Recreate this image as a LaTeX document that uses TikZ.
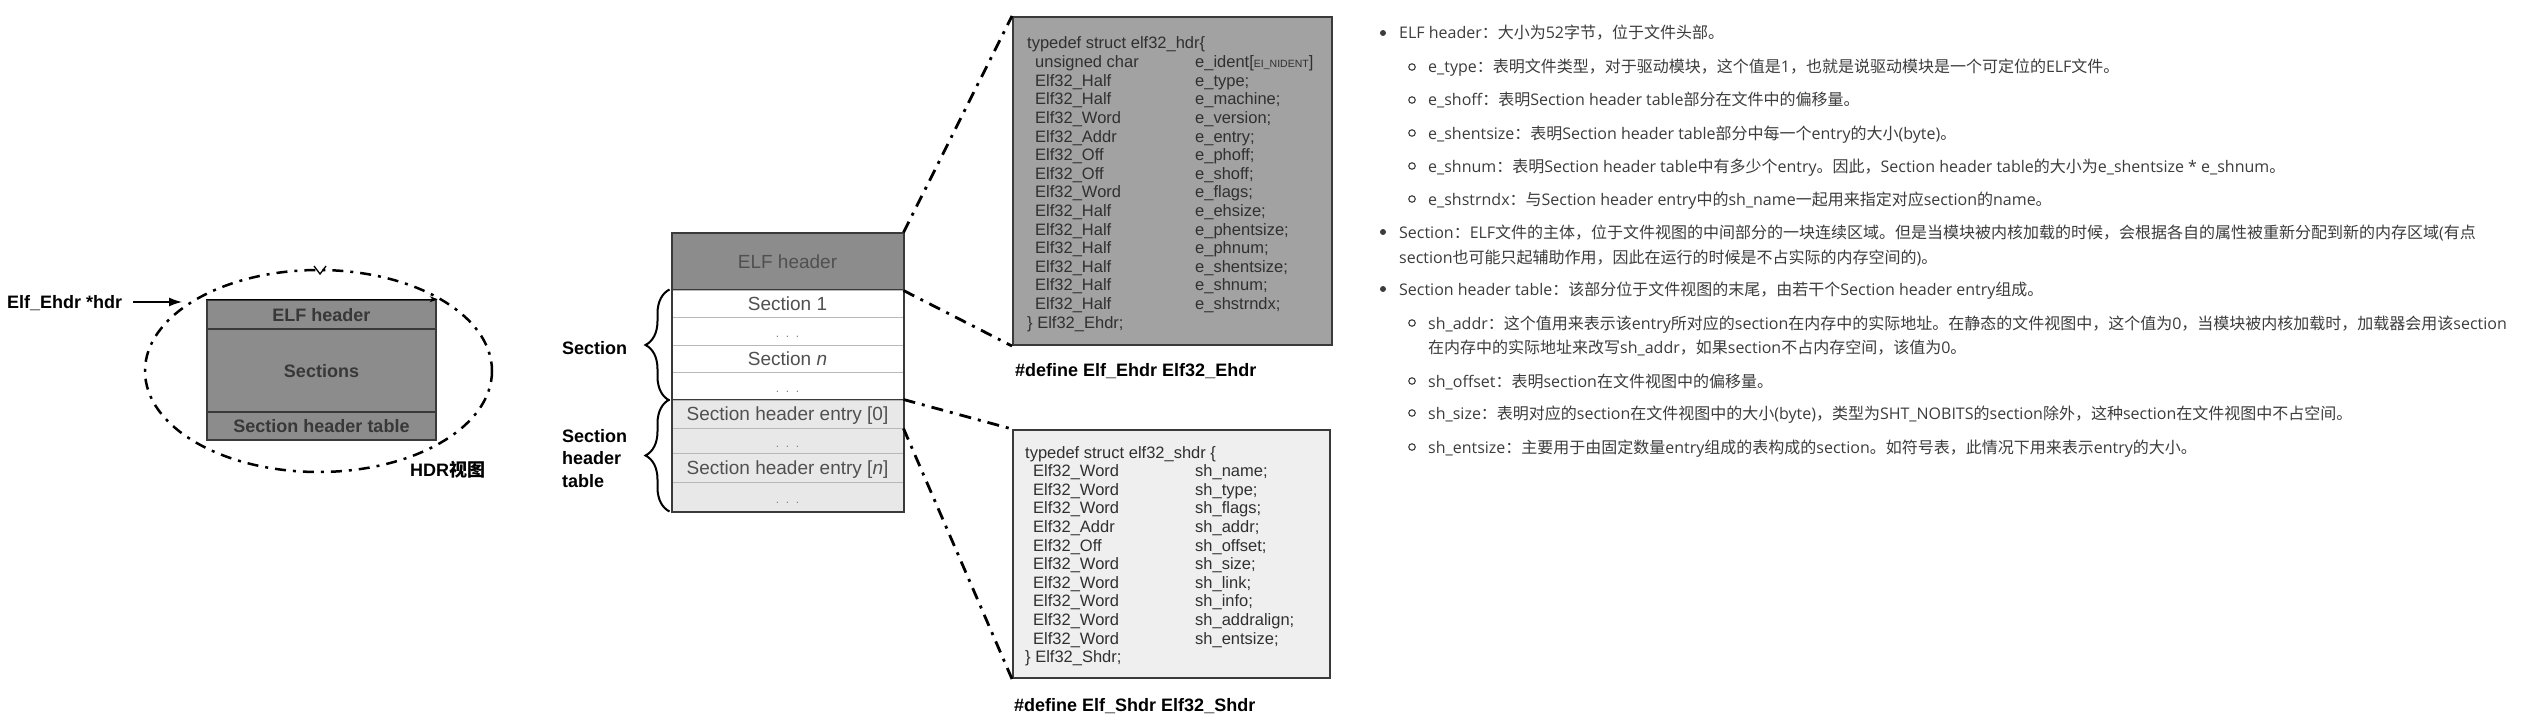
\documentclass[tikz,border=0pt]{standalone}
\usepackage{fontspec}
\setmainfont{Liberation Sans}
\newfontfamily\opensans{Open Sans}
\newfontfamily\cjkfont{Noto Sans CJK SC}
\usetikzlibrary{decorations.pathreplacing,arrows.meta}
\XeTeXinterchartokenstate=1
\newXeTeXintercharclass\CJKcls
\newcount\cjkc
\def\setcjkrange#1#2{\cjkc=#1\relax\loop\XeTeXcharclass\cjkc=\CJKcls\relax\ifnum\cjkc<#2\relax\advance\cjkc by 1\relax\repeat}
\setcjkrange{"3000}{"303F}
\setcjkrange{"4E00}{"9FFF}
\setcjkrange{"FF00}{"FFEF}
\XeTeXinterchartoks 0 \CJKcls = {\begingroup\cjkfont}
\XeTeXinterchartoks 4095 \CJKcls = {\begingroup\cjkfont}
\XeTeXinterchartoks \CJKcls 0 = {\endgroup}
\XeTeXinterchartoks \CJKcls 4095 = {\endgroup}
\definecolor{rtxt}{HTML}{3C3C3C}
\definecolor{codetxt}{HTML}{303030}
\definecolor{midtxt}{HTML}{505050}
\definecolor{rowline}{HTML}{B8B8B8}
\definecolor{boxline}{HTML}{3A3A3A}
\definecolor{darkfill}{HTML}{8C8C8C}
\definecolor{code1fill}{HTML}{A2A2A2}
\definecolor{code2fill}{HTML}{EFEFEF}
\definecolor{entryfill}{HTML}{E8E8E8}
\definecolor{lefttxt}{HTML}{383838}
\begin{document}
\begin{tikzpicture}[x=1pt,y=-1pt,
  lbl/.style={font=\bfseries\fontsize{18}{21}\selectfont, inner sep=0pt, text height=13pt, text depth=0pt, anchor=west},
  codeline/.style={font=\fontsize{16.5}{19}\selectfont, text=codetxt, inner sep=0pt, text height=12pt, text depth=0pt, anchor=west},
  rt/.style={font=\opensans\fontsize{16}{19}\selectfont, text=rtxt, inner sep=0pt, text height=12pt, text depth=0pt, anchor=west},
  lrow/.style={rectangle, draw=boxline, line width=1.5pt, fill=darkfill, minimum width=229pt, inner sep=0pt, font=\bfseries\fontsize{18}{21}\selectfont, text=lefttxt, text height=13pt, text depth=0pt},
  mrow/.style={rectangle, draw=rowline, line width=1pt, minimum width=231pt, inner sep=0pt, font=\fontsize{19}{22}\selectfont, text=midtxt, text height=13.6pt, text depth=0pt},
  dotrow/.style={mrow, font=\fontsize{12}{14}\selectfont, text=gray},
  codebox/.style={rectangle, draw=boxline, line width=2pt, inner sep=0pt},
  dashdot/.style={line width=2.8pt, dash pattern=on 12pt off 7pt on 3pt off 7pt},
  bracestyle/.style={decorate, decoration={brace, amplitude=24pt}, line width=2pt},
  fbullet/.style={circle, fill=rtxt, inner sep=0pt, minimum size=6pt},
  hbullet/.style={circle, draw=rtxt, line width=1.1pt, inner sep=0pt, minimum size=6.5pt}]
\useasboundingbox (0,0) rectangle (2528,725);
\fill[white] (0,0) rectangle (2528,725);

% ---------- left: HDR view ----------
\node[lbl] (hdrlbl) at (7,302) {Elf\_Ehdr *hdr};
\coordinate (hdrtip) at (182,302);
\draw[-{Latex[length=13pt,width=9pt]}, line width=1.3pt] ([xshift=11pt]hdrlbl.east) -- (hdrtip);
\node[lrow, minimum height=29pt] (lhdr) at (321.5,314.5) {ELF header};
\node[lrow, minimum height=83pt] (lsec) at (321.5,370.5) {Sections};
\node[lrow, minimum height=28pt] (lsht) at (321.5,426) {Section header table};
\draw[line width=1.2pt, -{Stealth[length=8pt,width=6pt]}] (lhdr.north west) -- ([xshift=1pt]lhdr.north east);
\draw[line width=2.5pt, dash pattern=on 11pt off 7pt on 3pt off 7pt] (318.5,371) ellipse [x radius=173.5, y radius=101];
\draw[line width=1.3pt] (314,266) -- (320,274) -- (326,266);
\node[lbl] (hdrview) at (410,470) {HDR视图};

% ---------- middle: file layout ----------
\node[mrow, fill=darkfill, draw=boxline, minimum height=57pt] (ehdr) at (787.5,261.5) {ELF header};
\node[mrow, fill=white, minimum height=27pt] (s1) at (787.5,303.5) {Section 1};
\node[dotrow, fill=white, minimum height=28pt] (d1) at (787.5,331) {.\ \ .\ \ .};
\node[mrow, fill=white, minimum height=27pt] (sn) at (787.5,358.5) {Section \textit{n}};
\node[dotrow, fill=white, minimum height=28pt] (d2) at (787.5,386) {.\ \ .\ \ .};
\node[mrow, fill=entryfill, minimum height=28pt] (e0) at (787.5,414) {Section header entry [0]};
\node[dotrow, fill=entryfill, minimum height=25pt] (d3) at (787.5,440.5) {.\ \ .\ \ .};
\node[mrow, fill=entryfill, minimum height=29pt] (en) at (787.5,467.5) {Section header entry [\textit{n}]};
\node[dotrow, fill=entryfill, minimum height=29pt] (d4) at (787.5,496.5) {.\ \ .\ \ .};
\draw[boxline, line width=1.5pt] (s1.north west) -- (s1.north east);
\draw[boxline, line width=1.5pt] (e0.north west) -- (e0.north east);
\draw[boxline, line width=2pt] (ehdr.north west) rectangle (d4.south east);

\draw[bracestyle] ([xshift=-2pt]d2.south west) -- ([xshift=-2pt]s1.north west);
\draw[bracestyle] ([xshift=-2pt]d4.south west) -- ([xshift=-2pt]e0.north west);
\node[lbl] (seclbl) at (562,348) {Section};
\node[font=\bfseries\fontsize{18}{22.5}\selectfont, align=left, inner sep=0pt, anchor=west] (shtlbl) at (562,458.5) {Section\\header\\table};

% ---------- code boxes ----------
\node[codebox, fill=code1fill, minimum width=319pt, minimum height=328pt] (code1) at (1172.5,181) {};
\node[codebox, fill=code2fill, minimum width=317pt, minimum height=248pt] (code2) at (1171.5,554) {};

\draw[dashdot] (ehdr.north east) -- (code1.north west);
\draw[dashdot] (ehdr.south east) -- (code1.south west);
\draw[dashdot] (e0.north east) -- (code2.north west);
\draw[dashdot] (e0.south east) -- (code2.south west);

\node[codeline] (h0) at (1027,43) {typedef struct elf32\_hdr\{};
\foreach \ty/\mb [count=\i] in {unsigned char/{e\_ident[{\fontsize{10.5}{12}\selectfont EI\_NIDENT}]},
  Elf32\_Half/e\_type;, Elf32\_Half/e\_machine;, Elf32\_Word/e\_version;, Elf32\_Addr/e\_entry;,
  Elf32\_Off/e\_phoff;, Elf32\_Off/e\_shoff;, Elf32\_Word/e\_flags;, Elf32\_Half/e\_ehsize;,
  Elf32\_Half/e\_phentsize;, Elf32\_Half/e\_phnum;, Elf32\_Half/e\_shentsize;, Elf32\_Half/e\_shnum;,
  Elf32\_Half/e\_shstrndx;}{
  \node[codeline] (ha\i) at (1035,{43+18.6*\i}) {\ty};
  \node[codeline] (hb\i) at (1195,{43+18.6*\i}) {\mb};
}
\node[codeline] (hend) at (1027,322) {\} Elf32\_Ehdr;};
\node[lbl, anchor=west] (def1) at (1015,370) {\#define Elf\_Ehdr Elf32\_Ehdr};

\node[codeline] (s0) at (1025,452) {typedef struct elf32\_shdr \{};
\foreach \ty/\mb [count=\i] in {Elf32\_Word/sh\_name;, Elf32\_Word/sh\_type;, Elf32\_Word/sh\_flags;,
  Elf32\_Addr/sh\_addr;, Elf32\_Off/sh\_offset;, Elf32\_Word/sh\_size;, Elf32\_Word/sh\_link;,
  Elf32\_Word/sh\_info;, Elf32\_Word/sh\_addralign;, Elf32\_Word/sh\_entsize;}{
  \node[codeline] (sa\i) at (1033,{452+18.6*\i}) {\ty};
  \node[codeline] (sb\i) at (1195,{452+18.6*\i}) {\mb};
}
\node[codeline] (send) at (1025,656.6) {\} Elf32\_Shdr;};
\node[lbl, anchor=west] (def2) at (1014,705) {\#define Elf\_Shdr Elf32\_Shdr};

% ---------- right: description ----------
\node[fbullet] (b1) at (1383,33) {};
\node[rt] (t1) at (1399,33) {ELF header：大小为52字节，位于文件头部。};
\node[hbullet] (b2) at (1412,67) {};
\node[rt] (t2) at (1428,67) {e\_type：表明文件类型，对于驱动模块，这个值是1，也就是说驱动模块是一个可定位的ELF文件。};
\node[hbullet] (b3) at (1412,100) {};
\node[rt] (t3) at (1428,100) {e\_shoff：表明Section header table部分在文件中的偏移量。};
\node[hbullet] (b4) at (1412,133) {};
\node[rt] (t4) at (1428,133) {e\_shentsize：表明Section header table部分中每一个entry的大小(byte)。};
\node[hbullet] (b5) at (1412,166) {};
\node[rt] (t5) at (1428,166) {e\_shnum：表明Section header table中有多少个entry。因此，Section header table的大小为e\_shentsize * e\_shnum。};
\node[hbullet] (b6) at (1412,199) {};
\node[rt] (t6) at (1428,199) {e\_shstrndx：与Section header entry中的sh\_name一起用来指定对应section的name。};
\node[fbullet] (b7) at (1383,232) {};
\node[rt] (t7) at (1399,232) {Section：ELF文件的主体，位于文件视图的中间部分的一块连续区域。但是当模块被内核加载的时候，会根据各自的属性被重新分配到新的内存区域(有点};
\node[rt] (t7b) at (1399,257) {section也可能只起辅助作用，因此在运行的时候是不占实际的内存空间的)。};
\node[fbullet] (b8) at (1383,289) {};
\node[rt] (t8) at (1399,289) {Section header table：该部分位于文件视图的末尾，由若干个Section header entry组成。};
\node[hbullet] (b9) at (1412,323) {};
\node[rt] (t9) at (1428,323) {sh\_addr：这个值用来表示该entry所对应的section在内存中的实际地址。在静态的文件视图中，这个值为0，当模块被内核加载时，加载器会用该section};
\node[rt] (t9b) at (1428,347) {在内存中的实际地址来改写sh\_addr，如果section不占内存空间，该值为0。};
\node[hbullet] (b10) at (1412,381) {};
\node[rt] (t10) at (1428,381) {sh\_offset：表明section在文件视图中的偏移量。};
\node[hbullet] (b11) at (1412,413) {};
\node[rt] (t11) at (1428,413) {sh\_size：表明对应的section在文件视图中的大小(byte)，类型为SHT\_NOBITS的section除外，这种section在文件视图中不占空间。};
\node[hbullet] (b12) at (1412,447) {};
\node[rt] (t12) at (1428,447) {sh\_entsize：主要用于由固定数量entry组成的表构成的section。如符号表，此情况下用来表示entry的大小。};
\end{tikzpicture}
\end{document}
